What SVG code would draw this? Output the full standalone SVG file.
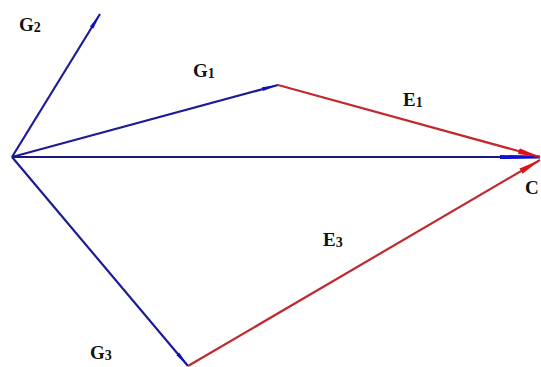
<svg xmlns="http://www.w3.org/2000/svg" width="541" height="367" viewBox="0 0 541 367">
<style>
.b{stroke:#1c1c96;stroke-width:2.2;fill:none}
.n{stroke:#1a1a70;stroke-width:2.2;fill:none}
.r{stroke:#c02a2e;stroke-width:2.2;fill:none}
.t{font-family:"Liberation Serif",serif;font-weight:bold;font-size:19px;fill:#111}
.s{font-size:14px}
</style>
<defs>
<marker id="ab" viewBox="0 0 16 6" refX="16" refY="3" markerWidth="16" markerHeight="6" markerUnits="userSpaceOnUse" orient="auto"><path d="M0,1 L16,3 L0,5 Z" fill="#1010c8"/></marker>
<marker id="ar" viewBox="0 0 22 8" refX="22" refY="4" markerWidth="22" markerHeight="8" markerUnits="userSpaceOnUse" orient="auto"><path d="M0,1 L22,4 L0,7 Z" fill="#e01018"/></marker>
<marker id="an" viewBox="0 0 40 6" refX="40" refY="3" markerWidth="40" markerHeight="6" markerUnits="userSpaceOnUse" orient="auto"><path d="M0,1 L40,1.5 L40,4.5 L0,5 Z" fill="#1010d0"/></marker>
</defs>
<g id="connectors">
<line id="g2" class="b" x1="12" y1="157" x2="100" y2="14" marker-end="url(#ab)"/>
<line id="g1" class="b" x1="12" y1="157" x2="278" y2="85" marker-end="url(#ab)"/>
<line id="g3" class="b" x1="12" y1="157" x2="188" y2="366" marker-end="url(#ab)"/>
<line id="main" class="n" x1="12" y1="157" x2="540" y2="157" marker-end="url(#an)"/>
<line id="e1" class="r" x1="278" y1="85" x2="540" y2="157" marker-end="url(#ar)"/>
<line id="e3" class="r" x1="188" y1="366" x2="540" y2="160" marker-end="url(#ar)"/>
</g>
<g id="labels">
<g id="lG2"><text class="t" x="19" y="31">G<tspan class="s" dy="1">2</tspan></text></g>
<g id="lG1"><text class="t" x="193" y="77">G<tspan class="s" dy="1">1</tspan></text></g>
<g id="lE1"><text class="t" x="403" y="106">E<tspan class="s" dy="1">1</tspan></text></g>
<g id="lE3"><text class="t" x="323" y="246">E<tspan class="s" dy="1">3</tspan></text></g>
<g id="lG3"><text class="t" x="90" y="359">G<tspan class="s" dy="1">3</tspan></text></g>
<g id="lC"><text class="t" x="525" y="194">C</text></g>
</g>
</svg>
